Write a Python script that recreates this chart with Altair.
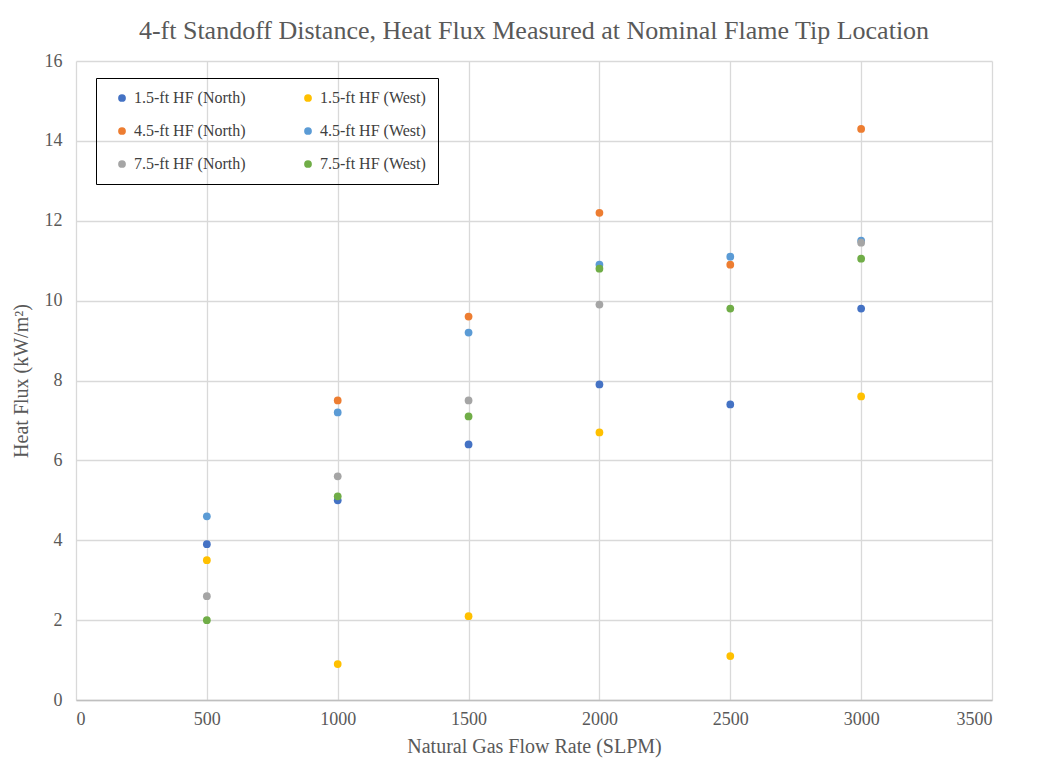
import altair as alt
import pandas as pd

series = ["1.5-ft HF (North)", "1.5-ft HF (West)", "4.5-ft HF (North)",
          "4.5-ft HF (West)", "7.5-ft HF (North)", "7.5-ft HF (West)"]
colors = ["#4472C4", "#FFC000", "#ED7D31", "#5B9BD5", "#A5A5A5", "#70AD47"]

flow_15n = [500, 1000, 1500, 2000, 2500, 3000]
hf_15n = [3.9, 5.0, 6.4, 7.9, 7.4, 9.8]
flow_15w = [500, 1000, 1500, 2000, 2500, 3000]
hf_15w = [3.5, 0.9, 2.1, 6.7, 1.1, 7.6]
flow_45n = [1000, 1500, 2000, 2500, 3000]
hf_45n = [7.5, 9.6, 12.2, 10.9, 14.3]
flow_45w = [500, 1000, 1500, 2000, 2500, 3000]
hf_45w = [4.6, 7.2, 9.2, 10.9, 11.1, 11.5]
flow_75n = [500, 1000, 1500, 2000, 3000]
hf_75n = [2.6, 5.6, 7.5, 9.9, 11.45]
flow_75w = [500, 1000, 1500, 2000, 2500, 3000]
hf_75w = [2.0, 5.1, 7.1, 10.8, 9.8, 11.05]

rows = []
for name, xs, ys in zip(series,
                        [flow_15n, flow_15w, flow_45n, flow_45w, flow_75n, flow_75w],
                        [hf_15n, hf_15w, hf_45n, hf_45w, hf_75n, hf_75w]):
    for x, y in zip(xs, ys):
        rows.append({"series": name, "flow": x, "hf": y, "order": series.index(name)})
df = pd.DataFrame(rows)

font = "Liberation Serif"

chart = alt.Chart(df).mark_circle(size=60, opacity=1).encode(
    x=alt.X("flow:Q", scale=alt.Scale(domain=[0, 3500], nice=False),
            axis=alt.Axis(values=list(range(0, 3501, 500)), format="d",
                          title="Natural Gas Flow Rate (SLPM)",
                          grid=True, ticks=False, labelPadding=10, titlePadding=8)),
    y=alt.Y("hf:Q", scale=alt.Scale(domain=[0, 16], nice=False),
            axis=alt.Axis(values=list(range(0, 17, 2)), format="d", title="Heat Flux (kW/m²)",
                          grid=True, ticks=False, domain=False, labelPadding=14, titlePadding=13)),
    color=alt.Color("series:N", scale=alt.Scale(domain=series, range=colors),
                    legend=alt.Legend(title=None, orient="none", legendX=20, legendY=17,
                                      columns=2, direction="horizontal",
                                      strokeColor="black", padding=12,
                                      symbolType="circle", symbolSize=60,
                                      labelFont=font, labelFontSize=16, labelColor="#404040",
                                      columnPadding=48, rowPadding=17, labelLimit=200,
                                      symbolOffset=6)),
    order=alt.Order("order:Q"),
).properties(
    width=916, height=639,
    title=alt.TitleParams("4-ft Standoff Distance, Heat Flux Measured at Nominal Flame Tip Location",
                          font=font, fontSize=26, fontWeight="normal", color="#595959", offset=8),
    autosize=alt.AutoSizeParams(type="none"),
    padding={"left": 68, "top": 53, "right": 50, "bottom": 60},
).configure(font=font).configure_title(font=font).configure_axis(
    labelFont=font, labelFontSize=18, labelColor="#595959",
    titleFont=font, titleFontSize=20, titleColor="#595959", titleFontWeight="normal",
    gridColor="#D9D9D9", gridWidth=1.3, domainColor="#BFBFBF", domainWidth=1.3,
).configure_legend(labelFont=font).configure_view(stroke=None)

chart.save("out.html", embed_options={"renderer": "svg", "actions": False})
